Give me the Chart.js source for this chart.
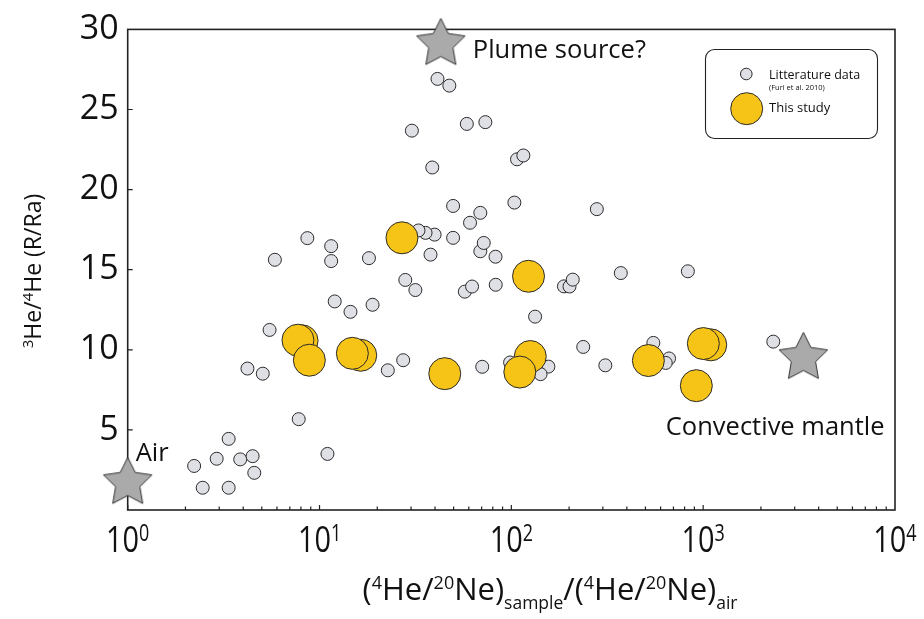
<!DOCTYPE html>
<html>
<head>
<meta charset="utf-8">
<script src="https://cdn.jsdelivr.net/npm/chart.js@4.4.1/dist/chart.umd.min.js"></script>
<style>
    html, body { margin: 0; padding: 0; background: #fff; }
    #wrap { width: 924px; height: 619px; }
</style>
</head>
<body>
<div id="wrap"><canvas id="heChart" width="924" height="619"></canvas></div>
<script>
// ==========================
// DATA
// ==========================

// literature data (Furi et al. 2010)
const litX = [2.22, 2.46, 2.91, 3.36, 3.36, 3.86, 4.48, 4.57, 7.79, 11.0,
    4.21, 5.06, 5.49, 22.7, 27.3, 70.5, 98.5, 156, 142, 237,
    309, 133, 188, 201, 209, 372, 832, 2320, 550, 664,
    638, 8.64, 11.5, 11.5, 5.85, 18.1, 12.0, 14.5, 18.9, 28.0,
    31.6, 57.2, 62.4, 82.9, 37.9, 82.7, 68.9, 71.8, 49.7, 39.8,
    35.7, 32.8, 60.9, 68.9, 49.7, 103.7, 279, 38.7, 107, 115.5,
    30.3, 58.6, 73.2, 41.2, 47.5];
const litY = [2.75, 1.39, 3.20, 4.44, 1.39, 3.16, 3.36, 2.32, 5.67, 3.50,
    8.83, 8.51, 11.24, 8.72, 9.35, 8.94, 9.21, 8.95, 8.48, 10.18,
    9.03, 12.07, 13.96, 13.95, 14.38, 14.79, 14.90, 10.51, 10.43, 9.46,
    9.18, 16.97, 16.47, 15.54, 15.62, 15.72, 13.02, 12.37, 12.81, 14.36,
    13.73, 13.63, 13.95, 14.06, 15.94, 15.81, 16.15, 16.67, 16.99, 17.19,
    17.30, 17.45, 17.93, 18.55, 18.98, 19.19, 18.78, 21.38, 21.89, 22.13,
    23.68, 24.10, 24.21, 26.91, 26.49];

// this study
const studyX = [8.11, 7.72, 8.85, 16.4, 14.83, 26.9, 44.97, 125.5, 110.7, 122.9, 518, 1095, 1002, 921];
const studyY = [10.56, 10.60, 9.35, 9.66, 9.78, 16.99, 8.51, 9.58, 8.61, 14.59, 9.33, 10.31, 10.39, 7.76];

// end-members
const endNames = ['Air', 'Plume source?', 'Convective mantle'];
const endX = [1, 42.9, 3330];
const endY = [1.7, 29.1, 9.5];

const decades = [0, 1, 2, 3, 4];
const supDigits = ['0', '1', '2', '3', '4'];
const yTicks = [5, 10, 15, 20, 25];

// ==========================
// HELPERS
// ==========================

const SANS = '"Open Sans", "DejaVu Sans", sans-serif';
const GRAY = '#dfe0e6';
const YELLOW = '#f6c317';
const EDGE = '#2a2a2a';

function toPoints(xs, ys) {
    return xs.map((v, i) => ({ x: v, y: ys[i] }));
}

function makeStar(R) {
    const c = document.createElement('canvas');
    const s = Math.ceil(R * 2 + 4);
    c.width = s;
    c.height = s;
    const g = c.getContext('2d');
    const cx = s / 2, cy = s / 2, r = R * 0.5;
    g.beginPath();
    for (let i = 0; i < 10; i++) {
        const a = -Math.PI / 2 + i * Math.PI / 5;
        const rr = i % 2 ? r : R;
        g.lineTo(cx + rr * Math.cos(a), cy + rr * Math.sin(a));
    }
    g.closePath();
    g.fillStyle = '#aaaaaa';
    g.fill();
    g.lineWidth = 1;
    g.strokeStyle = '#333';
    g.stroke();
    return c;
}

// parts: [text, size, dy]
function richWidth(ctx, parts) {
    let w = 0;
    parts.forEach(p => {
        ctx.font = p[1] + 'px ' + SANS;
        w += ctx.measureText(p[0]).width;
    });
    return w;
}

function drawRich(ctx, parts, x, y) {
    let cx = x;
    parts.forEach(p => {
        ctx.font = p[1] + 'px ' + SANS;
        ctx.fillText(p[0], cx, y + p[2]);
        cx += ctx.measureText(p[0]).width;
    });
}

function circle(ctx, x, y, r, fill) {
    ctx.beginPath();
    ctx.arc(x, y, r, 0, Math.PI * 2);
    ctx.fillStyle = fill;
    ctx.fill();
    ctx.lineWidth = 1;
    ctx.strokeStyle = EDGE;
    ctx.stroke();
}

// ==========================
// DECORATION PLUGIN
// ==========================

const decorations = {
    id: 'decorations',

    // frame and ticks go under the marks (the Air star sits on the axis)
    beforeDatasetsDraw(chart) {
        const { ctx, chartArea: a, scales: { x, y } } = chart;
        ctx.save();
        ctx.strokeStyle = '#222';
        ctx.lineWidth = 1.6;
        ctx.strokeRect(a.left, a.top, a.right - a.left, a.bottom - a.top);

        ctx.lineWidth = 1.2;
        ctx.beginPath();
        yTicks.forEach(v => {
            const py = y.getPixelForValue(v);
            ctx.moveTo(a.left, py);
            ctx.lineTo(a.left + 5, py);
        });
        for (let d = 0; d < 4; d++) {
            for (let m = 1; m <= 9; m++) {
                const px = x.getPixelForValue(m * Math.pow(10, d));
                ctx.moveTo(px, a.bottom);
                ctx.lineTo(px, a.bottom - (m === 1 ? 5 : 3.5));
            }
        }
        ctx.stroke();
        ctx.restore();
    },

    afterDraw(chart) {
        const { ctx, scales: { x, y } } = chart;
        ctx.save();
        ctx.fillStyle = '#111';
        ctx.textAlign = 'left';
        ctx.textBaseline = 'alphabetic';

        // x tick labels 10^n (condensed)
        decades.forEach((d, i) => {
            const px = x.getPixelForValue(Math.pow(10, d));
            const parts = [['10', 37, 0], [supDigits[i], 23, -11]];
            const w = richWidth(ctx, parts) * 0.78;
            ctx.save();
            ctx.translate(px - w / 2, 552);
            ctx.scale(0.78, 1);
            drawRich(ctx, parts, 0, 0);
            ctx.restore();
        });

        // x title
        const xt = [['(', 31, 0], ['4', 18, -11], ['He/', 31, 0], ['20', 18, -11], ['Ne)', 31, 0], ['sample', 17.5, 9],
            ['/(', 31, 0], ['4', 18, -11], ['He/', 31, 0], ['20', 18, -11], ['Ne)', 31, 0], ['air', 17.5, 9]];
        const xw = richWidth(ctx, xt);
        drawRich(ctx, xt, 550 - xw / 2, 600);

        // y title
        const yt = [['3', 15, -8], ['He/', 23, 0], ['4', 15, -8], ['He (R/Ra)', 23, 0]];
        const yw = richWidth(ctx, yt);
        ctx.save();
        ctx.translate(41, 271);
        ctx.rotate(-Math.PI / 2);
        drawRich(ctx, yt, -yw / 2, 0);
        ctx.restore();

        // end-member labels
        ctx.font = '25.5px ' + SANS;
        const off = [[8, -22], [32, 14.6], [-137.6, 77]];
        endNames.forEach((n, i) => {
            const px = x.getPixelForValue(endX[i]);
            const py = y.getPixelForValue(endY[i]);
            ctx.fillText(n, px + off[i][0], py + off[i][1]);
        });

        // legend
        ctx.beginPath();
        ctx.roundRect(705.5, 49.5, 172, 89, 9);
        ctx.lineWidth = 1.1;
        ctx.strokeStyle = '#222';
        ctx.stroke();
        circle(ctx, 746.3, 74, 5.8, GRAY);
        circle(ctx, 746.7, 108.7, 16, YELLOW);
        ctx.fillStyle = '#111';
        ctx.font = '12.5px ' + SANS;
        ctx.fillText('Litterature data', 769, 78.7);
        ctx.font = '7.5px ' + SANS;
        ctx.fillText('(Furi et al. 2010)', 769, 90);
        ctx.font = '13px ' + SANS;
        ctx.fillText('This study', 769, 112.3);

        ctx.restore();
    }
};

// ==========================
// CHART
// ==========================

const ctx = document.getElementById('heChart').getContext('2d');

const heChart = new Chart(ctx, {
    type: 'scatter',
    data: {
        datasets: [
            {
                label: 'This study',
                data: toPoints(studyX, studyY),
                backgroundColor: YELLOW,
                borderColor: EDGE,
                borderWidth: 1,
                pointRadius: 16,
                order: 0
            },
            {
                label: 'End-members',
                data: toPoints(endX, endY),
                pointStyle: makeStar(25.5),
                pointRadius: 26,
                clip: false,
                order: 1
            },
            {
                label: 'Litterature data',
                data: toPoints(litX, litY),
                backgroundColor: GRAY,
                borderColor: EDGE,
                borderWidth: 1,
                pointRadius: 6.5,
                order: 2
            }
        ]
    },
    options: {
        responsive: false,
        animation: false,
        layout: { padding: { top: 19.5, right: 29, bottom: 0, left: 0 } },
        plugins: {
            legend: { display: false },
            tooltip: { enabled: false }
        },
        scales: {
            x: {
                type: 'logarithmic',
                min: 1,
                max: 10000,
                grid: { display: false, drawTicks: false },
                border: { display: false },
                ticks: { display: false },
                afterFit: s => { s.height = 109; }
            },
            y: {
                min: 0,
                max: 30,
                grid: { display: false, drawTicks: false },
                border: { display: false },
                ticks: {
                    stepSize: 5,
                    padding: 9,
                    color: '#111',
                    font: { family: SANS, size: 34 },
                    callback: v => v === 0 ? '' : v
                },
                afterFit: s => { s.width = 127.7; }
            }
        }
    },
    plugins: [decorations]
});
</script>
</body>
</html>
